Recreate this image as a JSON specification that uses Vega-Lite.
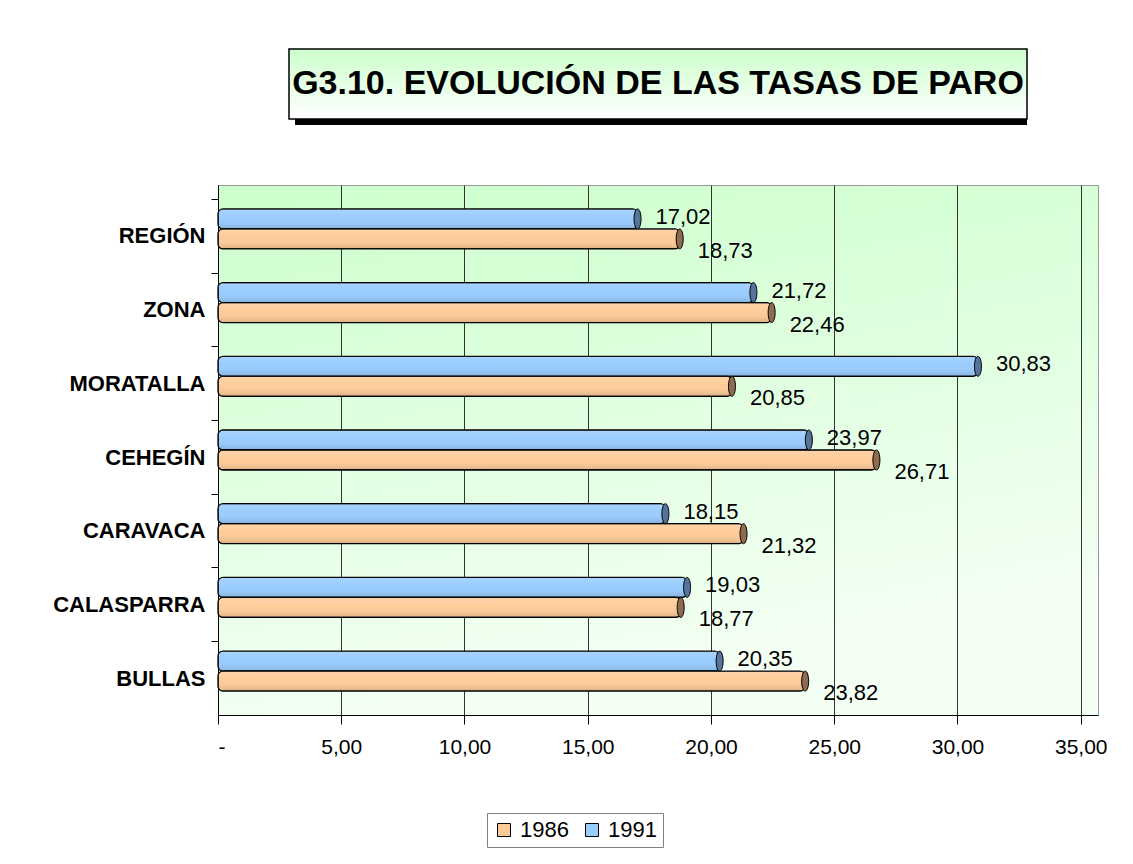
{
  "$schema": "https://vega.github.io/schema/vega-lite/v6.json",
  "padding": {"left": 52, "top": 48, "right": 5, "bottom": 5},
  "background": "white",
  "config": {
    "font": "Liberation Sans",
    "locale": {"number": {"decimal": ",", "thousands": ".", "grouping": [3], "currency": ["", ""]}}
  },
  "vconcat": [
    {
      "width": 738,
      "height": 70,
      "view": {"stroke": null},
      "layer": [
        {
          "data": {"values": [{}]},
          "mark": {"type": "rect", "fill": "black", "xOffset": 6, "yOffset": 6},
          "encoding": {
            "x": {"datum": 0, "type": "quantitative", "scale": {"domain": [0, 1], "nice": false}, "axis": null},
            "x2": {"datum": 1},
            "y": {"datum": 0, "type": "quantitative", "scale": {"domain": [0, 1], "nice": false}, "axis": null},
            "y2": {"datum": 1}
          }
        },
        {
          "data": {"values": [{}]},
          "mark": {
            "type": "rect",
            "stroke": "black",
            "strokeWidth": 1.5,
            "fill": {"gradient": "linear", "x1": 0, "y1": 0, "x2": 0, "y2": 1,
              "stops": [{"offset": 0, "color": "#CCFFCC"}, {"offset": 1, "color": "#FFFFFF"}]}
          },
          "encoding": {
            "x": {"datum": 0, "type": "quantitative"},
            "x2": {"datum": 1},
            "y": {"datum": 0, "type": "quantitative"},
            "y2": {"datum": 1}
          }
        },
        {
          "data": {"values": [{"titulo": "G3.10. EVOLUCIÓN DE LAS TASAS DE PARO"}]},
          "mark": {"type": "text", "font": "Liberation Sans", "fontWeight": "bold", "fontSize": 34, "color": "black"},
          "encoding": {
            "text": {"field": "titulo"},
            "x": {"datum": 0.5, "type": "quantitative"},
            "y": {"datum": 0.5, "type": "quantitative"}
          }
        }
      ]
    },
    {
      "width": 880,
      "height": 530,
      "view": {
        "stroke": "#999999",
        "fill": {"gradient": "linear", "x1": 0, "y1": 0, "x2": 0.3, "y2": 1,
          "stops": [{"offset": 0, "color": "#CCFFCC"}, {"offset": 1, "color": "#F4FFF4"}]}
      },
      "data": {
        "values": [
          {"municipio": "REGIÓN", "year": "1991", "tasa": 17.02},
          {"municipio": "REGIÓN", "year": "1986", "tasa": 18.73},
          {"municipio": "ZONA", "year": "1991", "tasa": 21.72},
          {"municipio": "ZONA", "year": "1986", "tasa": 22.46},
          {"municipio": "MORATALLA", "year": "1991", "tasa": 30.83},
          {"municipio": "MORATALLA", "year": "1986", "tasa": 20.85},
          {"municipio": "CEHEGÍN", "year": "1991", "tasa": 23.97},
          {"municipio": "CEHEGÍN", "year": "1986", "tasa": 26.71},
          {"municipio": "CARAVACA", "year": "1991", "tasa": 18.15},
          {"municipio": "CARAVACA", "year": "1986", "tasa": 21.32},
          {"municipio": "CALASPARRA", "year": "1991", "tasa": 19.03},
          {"municipio": "CALASPARRA", "year": "1986", "tasa": 18.77},
          {"municipio": "BULLAS", "year": "1991", "tasa": 20.35},
          {"municipio": "BULLAS", "year": "1986", "tasa": 23.82}
        ]
      },
      "encoding": {
        "y": {
          "field": "municipio", "type": "nominal",
          "sort": ["REGIÓN", "ZONA", "MORATALLA", "CEHEGÍN", "CARAVACA", "CALASPARRA", "BULLAS"],
          "scale": {"paddingInner": 0.457, "paddingOuter": 0.324},
          "axis": {
            "title": null, "grid": false,
            "labelFont": "Liberation Sans", "labelFontWeight": "bold", "labelFontSize": 22, "labelColor": "black",
            "labelPadding": 6, "tickSize": 7, "tickColor": "black", "domainColor": "black",
            "tickOffset": -30, "labelOffset": 37
          }
        },
        "x": {
          "field": "tasa", "type": "quantitative",
          "scale": {"domain": [0, 35.7], "nice": false, "zero": true},
          "axis": {
            "title": null, "values": [0, 5, 10, 15, 20, 25, 30, 35], "format": ".2f",
            "labelExpr": "datum.value === 0 ? '-' : datum.label",
            "labelFont": "Liberation Sans", "labelFontSize": 21, "labelColor": "black", "labelPadding": 12,
            "tickSize": 9, "tickColor": "black", "domainColor": "black",
            "grid": true, "gridColor": "#333333", "gridWidth": 1
          }
        },
        "yOffset": {"field": "year", "type": "nominal", "scale": {"domain": ["1991", "1986"], "paddingInner": 0, "paddingOuter": 0}}
      },
      "layer": [
        {
          "data": {"values": [{}]},
          "mark": {"type": "rect", "fill": "#CCFFFF", "stroke": "#999999", "strokeWidth": 0.8},
          "encoding": {
            "x": {"datum": 0, "type": "quantitative"},
            "x2": {"datum": 0.6},
            "y": null, "yOffset": null
          }
        },
        {
          "mark": {"type": "bar", "stroke": "black", "strokeWidth": 1.3, "cornerRadius": 5},
          "encoding": {
            "color": {
              "field": "year", "type": "nominal",
              "scale": {"domain": ["1986", "1991"], "range": ["#FFCC99", "#99CCFF"]},
              "legend": {
                "orient": "none", "legendX": 269, "legendY": 764, "direction": "horizontal",
                "title": null, "symbolType": "square", "symbolSize": 169,
                "symbolStrokeColor": "black", "symbolStrokeWidth": 1, "symbolOpacity": 1,
                "labelFont": "Liberation Sans", "labelFontSize": 22, "labelColor": "black",
                "labelOffset": 5, "columnPadding": 12, "padding": 6,
                "strokeColor": "#808080", "fillColor": "white"
              }
            }
          }
        },
        {
          "mark": {
            "type": "bar", "cornerRadius": 5, "strokeWidth": 0,
            "fill": {"gradient": "linear", "x1": 0, "y1": 0, "x2": 0, "y2": 1,
              "stops": [
                {"offset": 0, "color": "rgba(255,255,255,0.15)"},
                {"offset": 0.45, "color": "rgba(255,255,255,0)"},
                {"offset": 1, "color": "rgba(0,0,0,0.14)"}
              ]}
          },
          "encoding": {}
        },
        {
          "mark": {"type": "point", "shape": "M0,-1A0.35,1 0 1,1 0,1A0.35,1 0 1,1 0,-1Z", "size": 400, "filled": true, "stroke": "black", "strokeWidth": 1, "opacity": 1},
          "encoding": {
            "fill": {"condition": {"test": "datum.year === '1991'", "value": "#56739A"}, "value": "#8E6B4F"}
          }
        },
        {
          "transform": [{"filter": "datum.year === '1991'"}],
          "mark": {"type": "text", "align": "left", "dx": 18, "dy": -2, "fontSize": 22, "color": "black", "font": "Liberation Sans"},
          "encoding": {"text": {"field": "tasa", "type": "quantitative", "format": ".2f"}}
        },
        {
          "transform": [{"filter": "datum.year === '1986'"}],
          "mark": {"type": "text", "align": "left", "dx": 18, "dy": 12, "fontSize": 22, "color": "black", "font": "Liberation Sans"},
          "encoding": {"text": {"field": "tasa", "type": "quantitative", "format": ".2f"}}
        }
      ]
    }
  ],
  "spacing": 66,
  "center": true,
  "bounds": "flush"
}
